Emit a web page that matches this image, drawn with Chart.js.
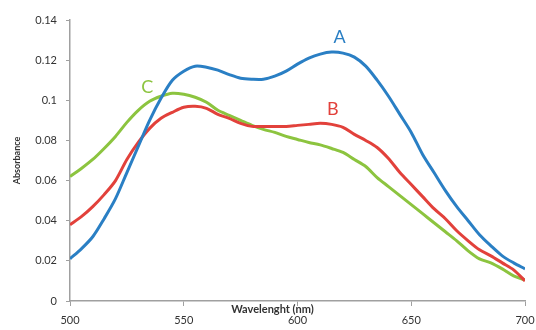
<!DOCTYPE html>
<html>
<head>
<meta charset="utf-8">
<script src="https://cdn.jsdelivr.net/npm/chart.js@4.4.1/dist/chart.umd.min.js"></script>
<style>
  html, body { margin: 0; padding: 0; background: #fff; }
  #wrap { width: 536px; height: 330px; position: relative; }
</style>
</head>
<body>
<div id="wrap"><canvas id="spectra"></canvas></div>
<script>
// wavelength grid (nm), read every 5 nm off the picture
const wavelengths = [
  500, 505, 510, 515, 520, 525, 530, 535, 540, 545,
  550, 555, 560, 565, 570, 575, 580, 585, 590, 595,
  600, 605, 610, 615, 620, 625, 630, 635, 640, 645,
  650, 655, 660, 665, 670, 675, 680, 685, 690, 695, 700,
];

const seriesA = [
  0.021, 0.026, 0.032, 0.041, 0.051, 0.064, 0.077, 0.090, 0.101, 0.110,
  0.1145, 0.117, 0.1165, 0.115, 0.1128, 0.111, 0.1105, 0.1105, 0.112, 0.1145,
  0.118, 0.121, 0.123, 0.124, 0.1235, 0.1215, 0.117, 0.110, 0.102, 0.093,
  0.084, 0.073, 0.064, 0.055, 0.047, 0.040, 0.033, 0.0275, 0.0225, 0.019, 0.016,
];

const seriesB = [
  0.038, 0.042, 0.047, 0.053, 0.060, 0.0705, 0.079, 0.086, 0.091, 0.094,
  0.0965, 0.097, 0.096, 0.093, 0.091, 0.0885, 0.087, 0.087, 0.087, 0.087,
  0.0875, 0.088, 0.0885, 0.088, 0.0865, 0.083, 0.080, 0.0765, 0.071, 0.064,
  0.058, 0.052, 0.046, 0.041, 0.035, 0.030, 0.0255, 0.0225, 0.019, 0.0155, 0.010,
];

const seriesC = [
  0.062, 0.066, 0.0705, 0.076, 0.082, 0.089, 0.095, 0.0995, 0.102, 0.1035,
  0.103, 0.1015, 0.099, 0.095, 0.0925, 0.090, 0.0875, 0.0855, 0.084, 0.082,
  0.0805, 0.079, 0.0778, 0.076, 0.074, 0.0705, 0.067, 0.0615, 0.057, 0.0525,
  0.048, 0.0435, 0.039, 0.0345, 0.030, 0.025, 0.021, 0.019, 0.016, 0.0125, 0.0105,
];

const yTickLabels = ['0', '0.02', '0.04', '0.06', '0.08', '0.1', '0.12', '0.14'];
const xTickLabels = ['500', '550', '600', '650', '700'];

// curve letters, placed in data coordinates
const curveNames = ['A', 'B', 'C'];
const curveLabelX = [618.5, 615.5, 534];
const curveLabelY = [0.1315, 0.0955, 0.1065];

const colors = ['#2a7fc4', '#e2413b', '#8cc43f'];

function toPoints(values) {
  return wavelengths.map((w, i) => ({ x: w, y: values[i] }));
}

const annotate = {
  id: 'annotate',
  afterDatasetsDraw(chart) {
    const ctx = chart.ctx;
    const xs = chart.scales.x;
    const ys = chart.scales.y;
    ctx.save();
    ctx.textAlign = 'center';
    ctx.textBaseline = 'middle';
    ctx.font = '18px Lato, "Open Sans", sans-serif';
    curveNames.forEach((name, i) => {
      ctx.fillStyle = colors[i];
      ctx.fillText(name, xs.getPixelForValue(curveLabelX[i]), ys.getPixelForValue(curveLabelY[i]));
    });
    // axis title sits between axis line and tick labels
    ctx.fillStyle = '#333';
    ctx.font = 'bold 11px Lato, "Open Sans", sans-serif';
    ctx.fillText('Wavelenght (nm)', xs.getPixelForValue(589), ys.bottom + 8);
    ctx.restore();
  },
};

new Chart(document.getElementById('spectra'), {
  type: 'line',
  data: {
    datasets: [
      { label: 'A', data: toPoints(seriesA), borderColor: colors[0] },
      { label: 'B', data: toPoints(seriesB), borderColor: colors[1] },
      { label: 'C', data: toPoints(seriesC), borderColor: colors[2] },
    ],
  },
  options: {
    responsive: true,
    maintainAspectRatio: false,
    animation: false,
    events: [],
    elements: {
      line: { borderWidth: 3, tension: 0.3, fill: false },
      point: { radius: 0 },
    },
    layout: { padding: { left: 12, right: 11, top: 20, bottom: 0 } },
    plugins: {
      legend: { display: false },
      tooltip: { enabled: false },
    },
    scales: {
      x: {
        type: 'linear',
        min: 500,
        max: 700,
        afterFit: (scale) => {
          scale.height = 29;
          scale.paddingLeft = 0;
          scale.paddingRight = 0;
        },
        afterBuildTicks: (scale) => {
          scale.ticks = xTickLabels.map((t) => ({ value: Number(t) }));
        },
        ticks: {
          callback: (v) => String(v),
          color: '#333',
          font: { family: 'Lato, "Open Sans", sans-serif', size: 11 },
          padding: 8,
          maxRotation: 0,
        },
        grid: { drawOnChartArea: false, drawTicks: true, tickLength: 5, color: '#a0a0a0' },
        border: { color: '#a0a0a0', width: 1.5 },
      },
      y: {
        min: 0,
        max: 0.14,
        afterFit: (scale) => {
          scale.width = 58;
          scale.paddingTop = 0;
          scale.paddingBottom = 0;
        },
        afterBuildTicks: (scale) => {
          scale.ticks = yTickLabels.map((t) => ({ value: Number(t) }));
        },
        ticks: {
          callback: (v, i) => yTickLabels[i],
          color: '#333',
          font: { family: 'Lato, "Open Sans", sans-serif', size: 11 },
          padding: 9,
        },
        title: {
          display: true,
          text: 'Absorbance',
          color: '#333',
          font: { family: 'Lato, "Open Sans", sans-serif', size: 9, weight: 'bold' },
          padding: { top: 0, bottom: 0 },
        },
        grid: { drawOnChartArea: false, drawTicks: true, tickLength: 4, color: '#a0a0a0' },
        border: { color: '#a0a0a0', width: 1.5 },
      },
    },
  },
  plugins: [annotate],
});
</script>
</body>
</html>
